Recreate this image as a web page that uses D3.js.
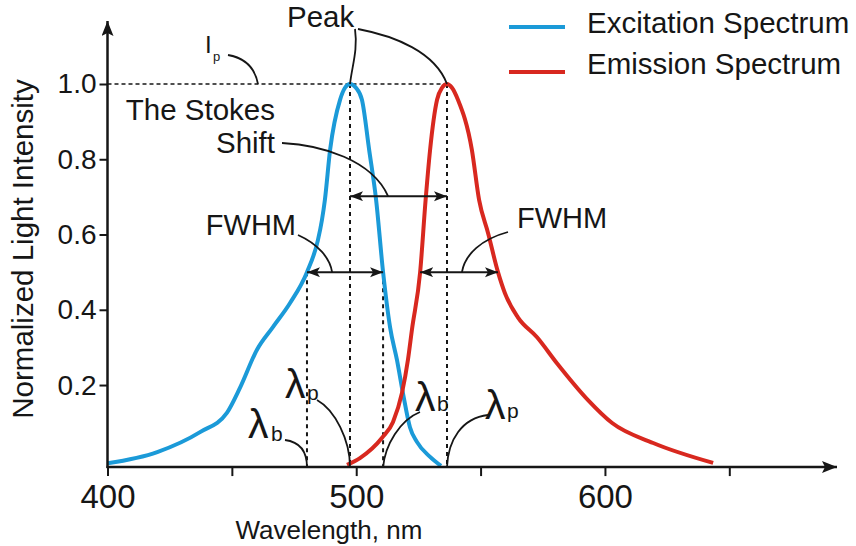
<!DOCTYPE html>
<html>
<head>
<meta charset="utf-8">
<script src="https://cdn.jsdelivr.net/npm/d3@7"></script>
<style>
  html, body { margin: 0; padding: 0; background: #fff; }
  svg { display: block; }
  text { font-family: "Liberation Sans", Arial, sans-serif; fill: #161616; }
</style>
</head>
<body>
<svg id="chart" width="856" height="546"></svg>
<script>
// Excitation spectrum (nm, normalized intensity)
const excitationWl = [400, 420, 437.2, 448, 453.3, 460.1, 466.5, 473.4, 480.2, 484.6, 486.2, 487.4, 489.5, 493.5, 495.5, 497.5, 499.9, 502.3, 505.2, 508, 510.8, 513.6, 516.4, 518.8, 521.6, 524.4, 529.7, 534.1];
const excitationI  = [-0.008, 0.022, 0.075, 0.126, 0.193, 0.294, 0.354, 0.418, 0.5, 0.585, 0.638, 0.692, 0.825, 0.958, 0.99, 1.0, 0.99, 0.958, 0.825, 0.692, 0.5, 0.354, 0.266, 0.178, 0.088, 0.049, 0.009, -0.015];

// Emission spectrum (nm, normalized intensity)
const emissionWl = [496.3, 501.5, 510.4, 514.8, 518.4, 520.8, 522.4, 525.7, 527.9, 529.7, 532.5, 534.5, 536.5, 538.5, 540.9, 546.5, 549.4, 553, 557, 559.8, 565, 572.7, 580.7, 593.2, 602.9, 619.4, 643.5];
const emissionI  = [-0.012, 0.006, 0.06, 0.102, 0.179, 0.267, 0.347, 0.5, 0.692, 0.825, 0.958, 0.99, 1.0, 0.99, 0.958, 0.825, 0.692, 0.604, 0.5, 0.444, 0.38, 0.327, 0.258, 0.16, 0.099, 0.046, -0.007];

// Characteristic wavelengths: peaks and half-maximum points
const peakWl = [497.5, 536.5];              // excitation, emission
const excitationHalfWl = [480.2, 510.8];
const emissionHalfWl = [525.7, 557.0];
const halfMax = 0.5;
const stokesLevel = 0.702;

// Axis ticks
const xTicks = [400, 450, 500, 550, 600, 650];
const xTickLabels = ["400", "", "500", "", "600", ""];
const yTicks = [0.2, 0.4, 0.6, 0.8, 1.0];
const axisFloor = -0.018;

const seriesNames = ["Excitation Spectrum", "Emission Spectrum"];
const seriesColors = ["#1b9ad8", "#d8281f"];

const svg = d3.select("#chart");
const ink = "#161616";

const x = d3.scaleLinear().domain([400, 650]).range([107.5, 729.3]);
const y = d3.scaleLinear().domain([0, 1]).range([460.3, 84]);

const axisY = y(axisFloor);
const axisX = x(400);

// Arrow markers
const defs = svg.append("defs");
defs.append("marker")
  .attr("id", "head")
  .attr("markerUnits", "userSpaceOnUse")
  .attr("markerWidth", 14).attr("markerHeight", 11)
  .attr("refX", 13).attr("refY", 5)
  .attr("orient", "auto-start-reverse")
  .append("path").attr("d", "M0,0 L13,5 L0,10 L3,5 Z").attr("fill", ink);
defs.append("marker")
  .attr("id", "axisHead")
  .attr("markerUnits", "userSpaceOnUse")
  .attr("markerWidth", 16).attr("markerHeight", 13)
  .attr("refX", 15).attr("refY", 6)
  .attr("orient", "auto")
  .append("path").attr("d", "M0,0 L15,6 L0,12 L3,6 Z").attr("fill", ink);

// Reference lines (under the curves)
const guides = svg.append("g").attr("stroke", ink).attr("fill", "none");
guides.append("line")
  .attr("x1", axisX).attr("x2", x(peakWl[1]))
  .attr("y1", y(1)).attr("y2", y(1))
  .attr("stroke-width", 1.6).attr("stroke-dasharray", "4,3");
peakWl.forEach(w => {
  guides.append("line")
    .attr("x1", x(w)).attr("x2", x(w))
    .attr("y1", y(1)).attr("y2", axisY)
    .attr("stroke-width", 2).attr("stroke-dasharray", "4,4");
});
excitationHalfWl.forEach(w => {
  guides.append("line")
    .attr("x1", x(w)).attr("x2", x(w))
    .attr("y1", y(halfMax)).attr("y2", axisY)
    .attr("stroke-width", 2).attr("stroke-dasharray", "4,4");
});

// Spectra
const line = d3.line()
  .x(d => x(d[0])).y(d => y(d[1]))
  .curve(d3.curveMonotoneX);
const series = [
  d3.zip(excitationWl, excitationI),
  d3.zip(emissionWl, emissionI)
];
svg.append("g").selectAll("path")
  .data(series)
  .join("path")
  .attr("d", line)
  .attr("fill", "none")
  .attr("stroke", (d, i) => seriesColors[i])
  .attr("stroke-width", 4)
  .attr("stroke-linejoin", "round");

// Axes
const xAxis = d3.axisBottom(x)
  .tickValues(xTicks)
  .tickSize(9)
  .tickPadding(9)
  .tickFormat((d, i) => xTickLabels[i]);
const gx = svg.append("g").attr("transform", `translate(0,${axisY})`).call(xAxis);
gx.select(".domain").remove();
gx.selectAll(".tick line").attr("stroke", ink).attr("stroke-width", 2);
gx.selectAll(".tick text").attr("fill", ink).style("font-size", "33px").attr("font-family", null);

const yAxis = d3.axisLeft(y)
  .tickValues(yTicks)
  .tickSize(8)
  .tickPadding(3)
  .tickFormat(d3.format(".1f"));
const gy = svg.append("g").attr("transform", `translate(${axisX},0)`).call(yAxis);
gy.select(".domain").remove();
gy.selectAll(".tick line").attr("stroke", ink).attr("stroke-width", 2);
gy.selectAll(".tick text").attr("fill", ink).style("font-size", "28px").attr("font-family", null);

svg.append("line")
  .attr("x1", axisX - 1).attr("x2", 837)
  .attr("y1", axisY).attr("y2", axisY)
  .attr("stroke", ink).attr("stroke-width", 2.5)
  .attr("marker-end", "url(#axisHead)");
svg.append("line")
  .attr("x1", axisX).attr("x2", axisX)
  .attr("y1", axisY + 1).attr("y2", 21)
  .attr("stroke", ink).attr("stroke-width", 2.5)
  .attr("marker-end", "url(#axisHead)");

// Axis titles
svg.append("text")
  .attr("x", x(489)).attr("y", 539)
  .attr("text-anchor", "middle")
  .style("font-size", "26px")
  .text("Wavelength, nm");
svg.append("text")
  .attr("transform", "translate(33,249) rotate(-90)")
  .attr("text-anchor", "middle")
  .style("font-size", "29.5px")
  .text("Normalized Light Intensity");

// Legend
const legend = svg.append("g");
seriesNames.forEach((name, i) => {
  const ly = 27 + i * 45;
  legend.append("line")
    .attr("x1", 509).attr("x2", 565)
    .attr("y1", ly).attr("y2", ly)
    .attr("stroke", seriesColors[i]).attr("stroke-width", 4);
  legend.append("text")
    .attr("x", 587).attr("y", 33 + i * 41)
    .style("font-size", "29.5px")
    .text(name);
});

// Double-headed measurement arrows
const arrows = svg.append("g").attr("stroke", ink).attr("stroke-width", 2);
[
  [peakWl[0], peakWl[1], stokesLevel],
  [excitationHalfWl[0], excitationHalfWl[1], halfMax],
  [emissionHalfWl[0], emissionHalfWl[1], halfMax]
].forEach(([a, b, lv]) => {
  arrows.append("line")
    .attr("x1", x(a)).attr("x2", x(b))
    .attr("y1", y(lv)).attr("y2", y(lv))
    .attr("marker-start", "url(#head)")
    .attr("marker-end", "url(#head)");
});

// Leader lines: label end given in pixels, far end anchored in data space
const leaders = svg.append("g").attr("stroke", ink).attr("stroke-width", 1.8).attr("fill", "none");
function leader(x0, y0, c1x, c1y, c2x, c2y, x1, y1) {
  leaders.append("path").attr("d", `M${x0},${y0} C${c1x},${c1y} ${c2x},${c2y} ${x1},${y1}`);
}
// I_p
leader(228, 55, 245, 58, 255, 68, x(460.5), y(1));
// Peak
leader(355, 29, 358, 50, 352, 66, x(peakWl[0]), y(1));
leader(358, 29, 395, 36, 435, 52, x(peakWl[1]), y(1));
// Stokes shift
leader(282, 143, 322, 145, 372, 160, x(512.8), y(stokesLevel));
// FWHM
leader(298, 235, 318, 244, 330, 258, x(490.3), y(halfMax));
leader(508, 232, 482, 239, 465, 254, x(542.5), y(halfMax));
// Wavelength markers
leader(285, 440, 300, 442, x(excitationHalfWl[0]), 452, x(excitationHalfWl[0]), axisY);
leader(317, 400, 335, 410, x(peakWl[0]), 440, x(peakWl[0]), axisY);
leader(420, 412, 400, 420, x(excitationHalfWl[1]) + 2, 445, x(excitationHalfWl[1]), axisY);
leader(488, 415, 462, 418, x(peakWl[1]) + 1, 440, x(peakWl[1]), axisY);

// Labels
const labels = svg.append("g");
function label(tx, ty, size, str, anchor) {
  return labels.append("text")
    .attr("x", tx).attr("y", ty)
    .attr("text-anchor", anchor || "start")
    .style("font-size", size + "px")
    .text(str);
}
label(205, 53, 24, "I");
label(213, 61, 13, "p");
label(287, 27, 29.5, "Peak");
label(275, 120, 29.5, "The Stokes", "end");
label(275, 153, 29.5, "Shift", "end");
label(296, 235, 29, "FWHM", "end");
label(517, 228, 29, "FWHM");

function lambda(lx, ly, sub, sx, sy) {
  label(lx, ly, 41, "λ");
  label(sx, sy, 21, sub);
}
lambda(248, 438, "b", 271, 441);
lambda(285, 398, "p", 307, 400);
lambda(415, 411, "b", 437, 411);
lambda(485, 419, "p", 507, 418);
</script>
</body>
</html>
